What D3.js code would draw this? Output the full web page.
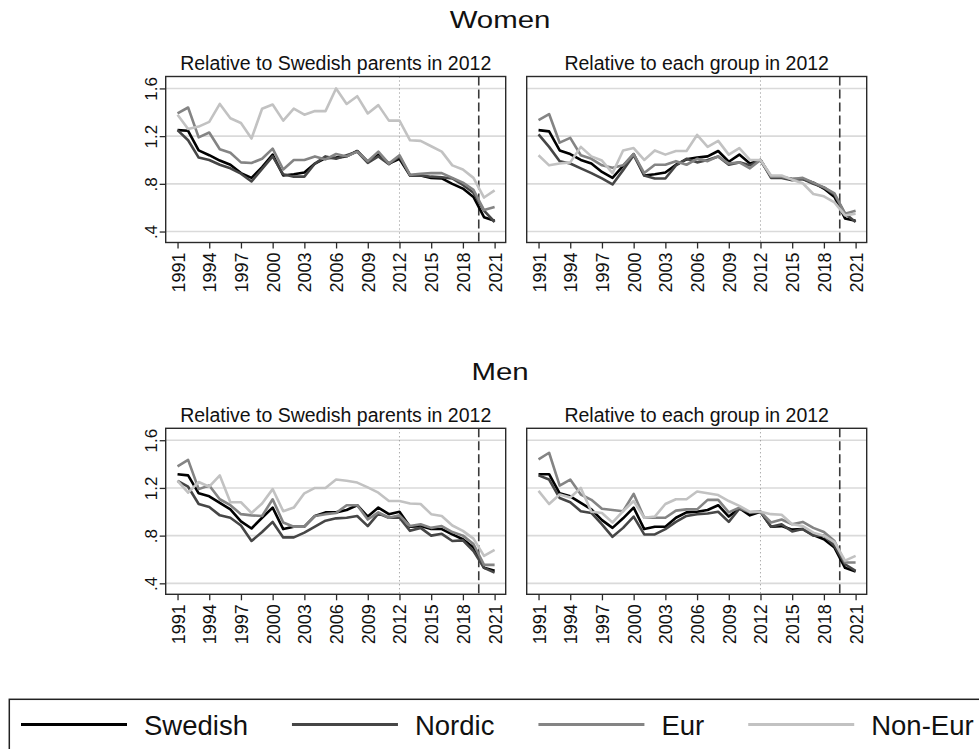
<!DOCTYPE html>
<html>
<head>
<meta charset="utf-8">
<script src="https://cdn.jsdelivr.net/npm/d3@7"></script>
<style>
  body { margin: 0; background: #fff; }
  svg { font-family: "Liberation Sans", Arial, sans-serif; }
</style>
</head>
<body>
<div class="chart"></div>
<script>
// ---- data ----
const years = [1991, 1992, 1993, 1994, 1995, 1996, 1997, 1998, 1999, 2000,
  2001, 2002, 2003, 2004, 2005, 2006, 2007, 2008, 2009, 2010,
  2011, 2012, 2013, 2014, 2015, 2016, 2017, 2018, 2019, 2020, 2021];
const xTickYears = [1991, 1994, 1997, 2000, 2003, 2006, 2009, 2012, 2015, 2018, 2021];
const yTickValues = [0.4, 0.8, 1.2, 1.6];
const yTickLabels = [".4", ".8", "1.2", "1.6"];
const seriesNames = ["Swedish", "Nordic", "Eur", "Non-Eur"];
const groupTitles = ["Women", "Men"];
const panelTitles = ["Relative to Swedish parents in 2012", "Relative to each group in 2012"];
const baseYear = 2012;
const breakYear = 2019.5;

// women, relative to Swedish parents in 2012
const womenSwedishP = [1.25, 1.245, 1.08, 1.04, 0.995, 0.96, 0.89, 0.85, 0.94, 1.045, 0.87, 0.88, 0.895, 0.97, 1.015, 1.02, 1.03, 1.075, 0.985, 1.045, 0.97, 1.01, 0.87, 0.87, 0.85, 0.845, 0.80, 0.76, 0.69, 0.52, 0.49];
const womenNordicP = [1.25, 1.165, 1.02, 1.0, 0.96, 0.93, 0.885, 0.82, 0.925, 1.03, 0.88, 0.86, 0.86, 0.97, 1.03, 1.01, 1.04, 1.07, 0.975, 1.03, 0.965, 1.03, 0.87, 0.87, 0.86, 0.855, 0.845, 0.79, 0.725, 0.575, 0.48];
const womenEurP = [1.39, 1.44, 1.19, 1.23, 1.09, 1.06, 0.98, 0.975, 1.01, 1.095, 0.92, 1.0, 1.0, 1.03, 1.005, 1.05, 1.03, 1.07, 0.99, 1.07, 0.97, 1.04, 0.875, 0.885, 0.89, 0.89, 0.85, 0.81, 0.75, 0.58, 0.605];
const womenNonEurP = [1.38, 1.26, 1.28, 1.32, 1.47, 1.35, 1.31, 1.18, 1.43, 1.465, 1.33, 1.43, 1.38, 1.41, 1.41, 1.60, 1.47, 1.535, 1.39, 1.46, 1.33, 1.33, 1.165, 1.16, 1.115, 1.07, 0.955, 0.92, 0.85, 0.685, 0.745];

// women, relative to each group in 2012
const womenSwedishG = [1.25, 1.24, 1.08, 1.05, 1.0, 0.97, 0.90, 0.85, 0.95, 1.05, 0.87, 0.88, 0.895, 0.96, 1.005, 1.02, 1.03, 1.075, 0.985, 1.045, 0.97, 1.0, 0.86, 0.855, 0.84, 0.84, 0.81, 0.76, 0.69, 0.51, 0.49];
const womenNordicG = [1.215, 1.11, 0.99, 0.97, 0.93, 0.89, 0.845, 0.795, 0.915, 1.04, 0.87, 0.845, 0.845, 0.955, 1.01, 0.98, 1.0, 1.03, 0.96, 0.98, 0.955, 1.0, 0.85, 0.85, 0.83, 0.84, 0.80, 0.77, 0.71, 0.55, 0.48];
const womenEurG = [1.335, 1.385, 1.145, 1.185, 1.04, 1.01, 0.955, 0.935, 0.955, 1.05, 0.89, 0.96, 0.96, 0.99, 0.96, 1.01, 0.99, 1.03, 0.97, 0.98, 0.93, 1.0, 0.86, 0.86, 0.84, 0.85, 0.81, 0.77, 0.72, 0.55, 0.575];
const womenNonEurG = [1.04, 0.955, 0.97, 0.98, 1.11, 1.03, 0.995, 0.89, 1.08, 1.10, 1.0, 1.08, 1.045, 1.075, 1.075, 1.21, 1.11, 1.16, 1.045, 1.10, 1.0, 1.0, 0.87, 0.87, 0.835, 0.805, 0.715, 0.695, 0.645, 0.535, 0.55];

// men, relative to Swedish parents in 2012
const menSwedishP = [1.315, 1.305, 1.155, 1.13, 1.075, 1.02, 0.92, 0.86, 0.95, 1.035, 0.855, 0.875, 0.875, 0.965, 0.995, 0.995, 1.015, 1.055, 0.96, 1.035, 0.98, 1.0, 0.875, 0.88, 0.855, 0.855, 0.81, 0.77, 0.70, 0.53, 0.505];
const menNordicP = [1.26, 1.21, 1.065, 1.04, 0.97, 0.95, 0.885, 0.755, 0.83, 0.915, 0.785, 0.785, 0.825, 0.875, 0.925, 0.945, 0.95, 0.965, 0.88, 0.985, 0.95, 0.95, 0.84, 0.865, 0.80, 0.815, 0.755, 0.76, 0.67, 0.53, 0.49];
const menEurP = [1.38, 1.435, 1.19, 1.22, 1.105, 1.055, 0.98, 0.97, 0.965, 1.105, 0.91, 0.875, 0.875, 0.965, 0.98, 0.99, 1.055, 1.055, 0.935, 0.995, 0.95, 0.97, 0.88, 0.895, 0.865, 0.88, 0.83, 0.80, 0.73, 0.555, 0.555];
const menNonEurP = [1.26, 1.16, 1.25, 1.21, 1.305, 1.08, 1.08, 0.99, 1.07, 1.19, 1.005, 1.035, 1.155, 1.2, 1.2, 1.27, 1.26, 1.245, 1.205, 1.16, 1.09, 1.09, 1.07, 1.065, 0.98, 0.965, 0.885, 0.84, 0.775, 0.63, 0.68];

// men, relative to each group in 2012
const menSwedishG = [1.315, 1.315, 1.155, 1.13, 1.075, 1.02, 0.93, 0.865, 0.945, 1.035, 0.855, 0.875, 0.875, 0.95, 0.995, 1.0, 1.015, 1.055, 0.96, 1.03, 0.97, 1.0, 0.875, 0.88, 0.85, 0.855, 0.805, 0.77, 0.70, 0.53, 0.50];
const menNordicG = [1.305, 1.27, 1.115, 1.08, 1.005, 0.99, 0.895, 0.79, 0.865, 0.96, 0.81, 0.81, 0.855, 0.915, 0.965, 0.98, 0.985, 1.0, 0.915, 1.025, 0.995, 1.0, 0.875, 0.895, 0.835, 0.855, 0.80, 0.80, 0.715, 0.56, 0.505];
const menEurG = [1.44, 1.495, 1.22, 1.27, 1.145, 1.10, 1.025, 1.015, 1.005, 1.15, 0.95, 0.95, 0.95, 1.01, 1.02, 1.02, 1.10, 1.10, 0.995, 1.035, 0.995, 1.0, 0.91, 0.935, 0.895, 0.915, 0.865, 0.83, 0.755, 0.575, 0.575];
const menNonEurG = [1.175, 1.065, 1.145, 1.12, 1.2, 1.0, 0.99, 0.91, 1.005, 1.09, 0.95, 0.96, 1.065, 1.105, 1.105, 1.17, 1.155, 1.14, 1.09, 1.05, 1.0, 1.0, 0.98, 0.975, 0.895, 0.88, 0.825, 0.80, 0.745, 0.59, 0.63];

// rows = groups, cols = panels, each cell holds the four series in legend order
const panelData = [
  [[womenSwedishP, womenNordicP, womenEurP, womenNonEurP],
   [womenSwedishG, womenNordicG, womenEurG, womenNonEurG]],
  [[menSwedishP, menNordicP, menEurP, menNonEurP],
   [menSwedishG, menNordicG, menEurG, menNonEurG]]
];

// ---- styles / layout ----
const seriesColors = ["#000000", "#464646", "#848484", "#c2c2c2"];
const width = 979, height = 749;
const colX = [165.7, 526.7];
const rowY = [76.5, 428.3];
const plotW = 340, plotH = 166;

const svg = d3.select(".chart")
  .append("svg")
  .attr("width", width)
  .attr("height", height)
  .attr("viewBox", `0 0 ${width} ${height}`);

const xScale = d3.scaleLinear().domain([1989.88, 2022.05]).range([0, plotW]);
const yScale = d3.scaleLinear().domain([0.308, 1.7]).range([plotH, 0]);

const line = d3.line()
  .x((d, i) => xScale(years[i]))
  .y(d => yScale(d));

function drawPanel(g, series, showY, title) {
  //Subtitle
  g.append("text")
    .attr("x", plotW / 2)
    .attr("y", -6.5)
    .attr("text-anchor", "middle")
    .attr("font-size", 19.5)
    .attr("fill", "#111")
    .text(title);

  //Gridlines
  g.selectAll(".grid")
    .data(yTickValues)
    .join("line")
    .attr("class", "grid")
    .attr("x1", 0)
    .attr("x2", plotW)
    .attr("y1", d => yScale(d))
    .attr("y2", d => yScale(d))
    .attr("stroke", "#dadada")
    .attr("stroke-width", 1.6);

  //Reference lines
  g.append("line")
    .attr("x1", xScale(baseYear)).attr("x2", xScale(baseYear))
    .attr("y1", 0).attr("y2", plotH)
    .attr("stroke", "#8a8a8a")
    .attr("stroke-width", 1)
    .attr("stroke-dasharray", "1,3");

  g.append("line")
    .attr("x1", xScale(breakYear)).attr("x2", xScale(breakYear))
    .attr("y1", 0).attr("y2", plotH)
    .attr("stroke", "#3a3a3a")
    .attr("stroke-width", 1.6)
    .attr("stroke-dasharray", "9,4");

  //Series lines
  g.selectAll(".series")
    .data(series)
    .join("path")
    .attr("class", "series")
    .attr("d", d => line(d))
    .attr("fill", "none")
    .attr("stroke", (d, i) => seriesColors[i])
    .attr("stroke-width", 2.6)
    .attr("stroke-linejoin", "round");

  //Frame
  g.append("rect")
    .attr("x", 0).attr("y", 0)
    .attr("width", plotW).attr("height", plotH)
    .attr("fill", "none")
    .attr("stroke", "#2a2a2a")
    .attr("stroke-width", 1.4);

  //X axis
  const xAxis = d3.axisBottom(xScale)
    .tickValues(xTickYears)
    .tickFormat(d3.format("d"))
    .tickSize(6)
    .tickPadding(3);
  const xg = g.append("g")
    .attr("transform", `translate(0, ${plotH})`)
    .call(xAxis);
  xg.select(".domain").remove();
  xg.selectAll(".tick line").attr("stroke", "#2a2a2a").attr("stroke-width", 1.3);
  xg.selectAll(".tick text")
    .attr("font-family", "Liberation Sans, Arial, sans-serif")
    .attr("font-size", 18)
    .attr("fill", "#111")
    .attr("text-anchor", "end")
    .attr("transform", "rotate(-90)")
    .attr("x", -10)
    .attr("y", 0)
    .attr("dy", "0.36em");

  //Y axis
  if (showY) {
    const yAxis = d3.axisLeft(yScale)
      .tickValues(yTickValues)
      .tickFormat((d, i) => yTickLabels[i])
      .tickSize(6)
      .tickPadding(3);
    const yg = g.append("g").call(yAxis);
    yg.select(".domain").remove();
    yg.selectAll(".tick line").attr("stroke", "#2a2a2a").attr("stroke-width", 1.3);
    yg.selectAll(".tick text")
      .attr("font-family", "Liberation Sans, Arial, sans-serif")
      .attr("font-size", 17)
      .attr("fill", "#111")
      .attr("text-anchor", "middle")
      .attr("transform", "rotate(-90)")
      .attr("x", 0)
      .attr("y", -9)
      .attr("dy", 0);
  }
}

groupTitles.forEach((group, r) => {
  //Group title
  svg.append("text")
    .attr("transform", `translate(500, ${rowY[r] - 48.2}) scale(1.2, 1)`)
    .attr("text-anchor", "middle")
    .attr("font-size", 24.5)
    .attr("fill", "#111")
    .text(group);

  panelTitles.forEach((title, c) => {
    const g = svg.append("g")
      .attr("transform", `translate(${colX[c]}, ${rowY[r]})`);
    drawPanel(g, panelData[r][c], c === 0, title);
  });
});

//Legend
const legend = svg.append("g").attr("class", "legend");
legend.append("rect")
  .attr("x", 9.3)
  .attr("y", 699.3)
  .attr("width", 1000)
  .attr("height", 100)
  .attr("fill", "none")
  .attr("stroke", "#222")
  .attr("stroke-width", 1.5);

let cursor = 21;
seriesNames.forEach((name, i) => {
  legend.append("line")
    .attr("x1", cursor).attr("x2", cursor + 106)
    .attr("y1", 724.5).attr("y2", 724.5)
    .attr("stroke", seriesColors[i])
    .attr("stroke-width", 3.2);
  const t = legend.append("text")
    .attr("x", cursor + 123)
    .attr("y", 735)
    .attr("font-size", 27.5)
    .attr("fill", "#111")
    .text(name);
  cursor += 123 + t.node().getComputedTextLength() + 44;
});
</script>
</body>
</html>
